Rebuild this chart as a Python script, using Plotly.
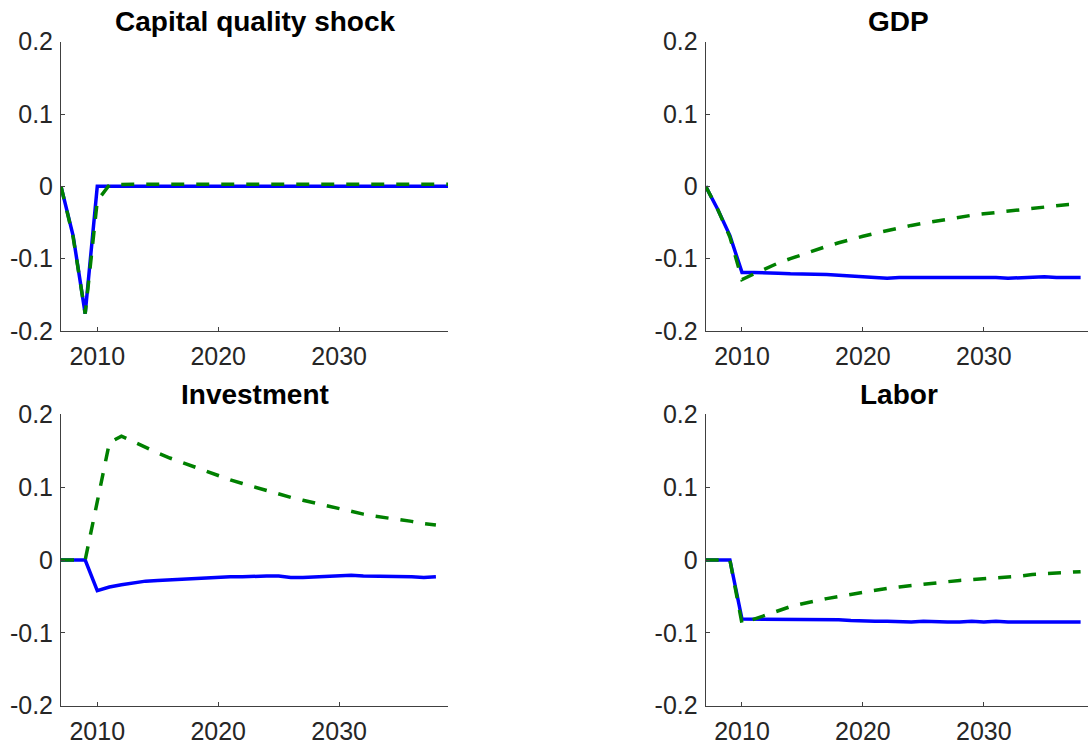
import plotly.graph_objects as go

# ---------------- data ----------------
years = list(range(2007, 2039))          # 2007..2038
years_shock = list(range(2007, 2040))    # 2007..2039

titles = ["Capital quality shock", "GDP", "Investment", "Labor"]

shock_blue = [0, -0.068, -0.176, 0, 0, 0, 0, 0.0002, 0, 0, -0.0002, 0, 0, 0, 0,
              0, 0.0002, 0, 0, 0, -0.0008, 0, 0, 0, 0.0002, 0, -0.0003, 0, 0,
              0, -0.0003, 0, 0]
shock_green = [0, -0.07, -0.176, -0.02, 0.002, 0.003, 0.003, 0.003, 0.003, 0.003,
               0.003, 0.003, 0.003, 0.003, 0.003, 0.003, 0.003, 0.003, 0.003, 0.003,
               0.003, 0.003, 0.003, 0.003, 0.003, 0.003, 0.003, 0.003, 0.003, 0.003,
               0.003, 0.003, 0.003]

gdp_blue = [0, -0.032, -0.068, -0.119, -0.119, -0.119, -0.12, -0.121, -0.121, -0.121,
            -0.122, -0.123, -0.124, -0.125, -0.126, -0.127, -0.126, -0.126, -0.126,
            -0.126, -0.126, -0.126, -0.125, -0.126, -0.126, -0.127, -0.126, -0.125,
            -0.125, -0.126, -0.126, -0.126]
gdp_green = [0, -0.032, -0.07, -0.129, -0.121, -0.113, -0.106, -0.100, -0.094, -0.088,
             -0.083, -0.078, -0.073, -0.069, -0.065, -0.061, -0.058, -0.054, -0.051,
             -0.048, -0.045, -0.043, -0.040, -0.038, -0.036, -0.034, -0.032, -0.030,
             -0.028, -0.027, -0.025, -0.024]

inv_blue = [0, 0, 0, -0.042, -0.037, -0.034, -0.031, -0.029, -0.028, -0.027, -0.026,
            -0.025, -0.024, -0.024, -0.023, -0.023, -0.022, -0.022, -0.022, -0.024,
            -0.024, -0.023, -0.023, -0.022, -0.021, -0.022, -0.022, -0.022, -0.022,
            -0.023, -0.024, -0.023]
inv_green = [0, 0, 0, 0.08, 0.161, 0.170, 0.162, 0.154, 0.147, 0.140, 0.134, 0.127,
             0.121, 0.116, 0.110, 0.105, 0.100, 0.095, 0.091, 0.086, 0.082, 0.078,
             0.075, 0.071, 0.067, 0.063, 0.060, 0.058, 0.055, 0.053, 0.050, 0.048]

lab_blue = [0, 0, 0, -0.081, -0.081, -0.081, -0.081, -0.082, -0.082, -0.081, -0.082,
            -0.082, -0.083, -0.084, -0.084, -0.084, -0.085, -0.085, -0.084, -0.085,
            -0.085, -0.085, -0.084, -0.085, -0.084, -0.085, -0.085, -0.085, -0.084,
            -0.085, -0.085, -0.085]
lab_green = [0, 0, 0, -0.087, -0.081, -0.075, -0.069, -0.064, -0.060, -0.056, -0.053,
             -0.050, -0.047, -0.044, -0.041, -0.039, -0.037, -0.035, -0.033, -0.032,
             -0.030, -0.028, -0.027, -0.026, -0.024, -0.023, -0.022, -0.020, -0.019,
             -0.018, -0.017, -0.016]

y_tickvals = [-0.2, -0.1, 0, 0.1, 0.2]
y_ticktext = ["-0.2", "-0.1", "0", "0.1", "0.2"]
x_tickvals = [2010, 2020, 2030]
x_ticktext = ["2010", "2020", "2030"]

# ---------------- figure ----------------
W, H = 1088, 746
BLUE = "#0000FF"
GREEN = "#008000"
AX = "#404040"
FONT = "Liberation Sans, Arial, Helvetica, sans-serif"

panels = [
    (years_shock, shock_blue, shock_green, "x", "y"),
    (years, gdp_blue, gdp_green, "x2", "y2"),
    (years, inv_blue, inv_green, "x3", "y3"),
    (years, lab_blue, lab_green, "x4", "y4"),
]

fig = go.Figure()
for xs, b, g, xa, ya in panels:
    fig.add_trace(go.Scatter(x=xs, y=b, mode="lines", xaxis=xa, yaxis=ya,
                             line=dict(color=BLUE, width=3.5), showlegend=False))
    fig.add_trace(go.Scatter(x=xs, y=g, mode="lines", xaxis=xa, yaxis=ya,
                             line=dict(color=GREEN, width=3.5, dash="13px,12px"),
                             showlegend=False))

def hx(px):   # pixel x -> paper x
    return px / W

def vy(py):   # pixel y -> paper y
    return 1 - py / H

left = [hx(61), hx(448)]
right = [hx(705.7), 1.0]
top = [vy(331), vy(41.7)]
bottom = [vy(705.7), vy(414.3)]
px_per_year = (448 - 61) / 32.0
right_end = 2007 + (W - 705.7) / px_per_year

def xax(domain, anchor, rng):
    return dict(domain=domain, anchor=anchor, range=rng, showline=True,
                linecolor=AX, linewidth=1, ticks="inside", ticklen=4,
                tickcolor=AX, tickwidth=1, showgrid=False, zeroline=False,
                automargin=False, ticklabelstandoff=3,
                tickvals=x_tickvals, ticktext=x_ticktext,
                tickfont=dict(family=FONT, size=25, color="#262626"))

def yax(domain, anchor):
    return dict(domain=domain, anchor=anchor, range=[-0.2, 0.2], showline=True,
                linecolor=AX, linewidth=1, ticks="inside", ticklen=4,
                tickcolor=AX, tickwidth=1, showgrid=False, zeroline=False,
                automargin=False, ticklabelstandoff=2,
                tickvals=y_tickvals, ticktext=y_ticktext,
                tickfont=dict(family=FONT, size=25, color="#262626"))

fig.update_layout(
    width=W, height=H,
    margin=dict(l=0, r=0, t=0, b=0),
    paper_bgcolor="white", plot_bgcolor="white",
    showlegend=False,
    xaxis=xax(left, "y", [2007, 2039]),
    yaxis=yax(top, "x"),
    xaxis2=xax(right, "y2", [2007, right_end]),
    yaxis2=yax(top, "x2"),
    xaxis3=xax(left, "y3", [2007, 2039]),
    yaxis3=yax(bottom, "x3"),
    xaxis4=xax(right, "y4", [2007, right_end]),
    yaxis4=yax(bottom, "x4"),
)

title_pos = [
    (hx(254.5), vy(21)),
    (hx(898.8), vy(21)),
    (hx(254.5), vy(394)),
    (hx(898.8), vy(394)),
]
for t, (px, py) in zip(titles, title_pos):
    fig.add_annotation(text="<b>%s</b>" % t, x=px, y=py, xref="paper", yref="paper",
                       xanchor="center", yanchor="middle", showarrow=False,
                       font=dict(family=FONT, size=28, color="black"))

# remove the browser's default 8px body margin so the figure fills the window
fig.write_html("out.html",
               config={"displayModeBar": False, "staticPlot": True},
               post_script="document.body.style.margin='0px';document.body.style.overflow='hidden';")
